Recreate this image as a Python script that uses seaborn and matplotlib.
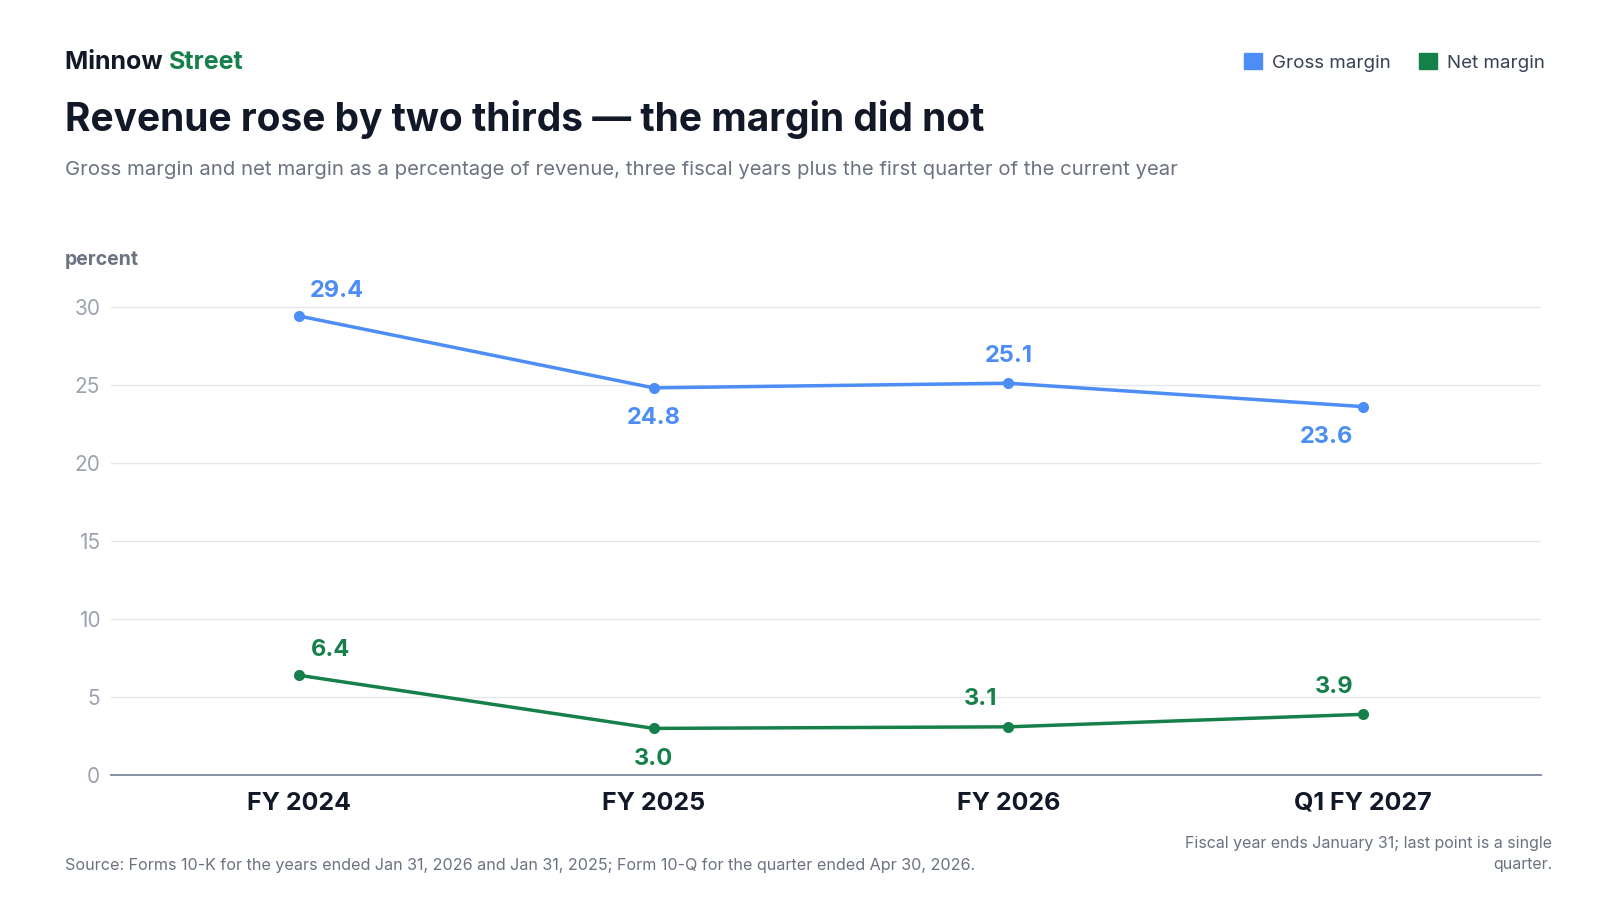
import matplotlib
matplotlib.use("Agg")
import matplotlib.pyplot as plt
import matplotlib.patches as mpatches
import pandas as pd
import seaborn as sns

periods = ["FY 2024", "FY 2025", "FY 2026", "Q1 FY 2027"]
gross_margin = [29.4, 24.8, 25.1, 23.6]
net_margin = [6.4, 3.0, 3.1, 3.9]

BLUE = "#4C8DF6"
GREEN = "#16804A"
DARK = "#111827"
GREY = "#6B7280"

sns.set_theme(style="white")
plt.rcParams['font.family'] = ['Inter', 'DejaVu Sans']

df = pd.DataFrame({
  "period": periods * 2,
  "x": list(range(4)) * 2,
  "value": gross_margin + net_margin,
  "series": ["Gross margin"] * 4 + ["Net margin"] * 4,
})

fig = plt.figure(figsize=(16, 9), dpi=100)
ax = fig.add_axes([0.0696, 0.1386, 0.8937, 0.5554])

sns.lineplot(data=df, x="x", y="value", hue="series",
             palette={"Gross margin": BLUE, "Net margin": GREEN},
             marker="o", markersize=8, markeredgewidth=0, linewidth=2.5,
             legend=False, ax=ax)

ax.set_xlim(-0.529, 3.503)
ax.set_ylim(0, 32)
ax.set_yticks(range(0, 31, 5))
ax.set_xticks(range(4))
ax.set_xticklabels(periods, fontsize=18, fontweight="bold", color=DARK)
ax.tick_params(axis="y", labelsize=15, labelcolor="#9CA3AF", length=0, pad=8)
ax.tick_params(axis="x", length=0, pad=12)
ax.set_xlabel("")
ax.set_ylabel("")
ax.grid(axis="y", color="#E5E7EB", linewidth=1)
for s in ["top", "right", "left"]:
  ax.spines[s].set_visible(False)
ax.spines["bottom"].set_color("#7C8799")
ax.spines["bottom"].set_linewidth(1.3)

# label offsets in points
g_off = [(27, 10), (0, -14), (0, 12), (-26, -14)]
n_off = [(23, 10), (0, -14), (-20, 12), (-21, 12)]
for i, v in enumerate(gross_margin):
  dx, dy = g_off[i]
  ax.annotate(f"{v:.1f}", (i, v), xytext=(dx, dy), textcoords="offset points",
              ha="center", va="bottom" if dy > 0 else "top",
              fontsize=17, fontweight="bold", color=BLUE)
for i, v in enumerate(net_margin):
  dx, dy = n_off[i]
  ax.annotate(f"{v:.1f}", (i, v), xytext=(dx, dy), textcoords="offset points",
              ha="center", va="bottom" if dy > 0 else "top",
              fontsize=17, fontweight="bold", color=GREEN)

fig.text(0.0406, 0.711, "percent", fontsize=14, fontweight="bold", color=GREY, va="center")

t = fig.text(0.0406, 0.931, "Minnow ", fontsize=18, fontweight="bold", color=DARK, va="center")
fig.canvas.draw()
bb = t.get_window_extent()
fig.text(bb.x1 / 1600, 0.931, "Street", fontsize=18, fontweight="bold", color=GREEN, va="center")
fig.text(0.0406, 0.867, "Revenue rose by two thirds \u2014 the margin did not",
         fontsize=28, fontweight="bold", color=DARK, va="center")
fig.text(0.0406, 0.811, "Gross margin and net margin as a percentage of revenue, three fiscal years plus the first quarter of the current year",
         fontsize=14.6, color=GREY, va="center")

handles = [mpatches.Patch(color=BLUE, label="Gross margin"),
           mpatches.Patch(color=GREEN, label="Net margin")]
leg = fig.legend(handles=handles, loc="center right", bbox_to_anchor=(0.976, 0.931),
                 ncol=2, frameon=False, fontsize=13.5, handlelength=1.0, handleheight=1.0,
                 columnspacing=1.5, handletextpad=0.5)
for txt in leg.get_texts():
  txt.set_color("#374151")

fig.text(0.0406, 0.038, "Source: Forms 10-K for the years ended Jan 31, 2026 and Jan 31, 2025; Form 10-Q for the quarter ended Apr 30, 2026.",
         fontsize=11.6, color=GREY, va="center")
fig.text(0.970, 0.051, "Fiscal year ends January 31; last point is a single\nquarter.",
         fontsize=11.5, color=GREY, ha="right", va="center", multialignment="right", linespacing=1.5)

plt.savefig("out.png", dpi=100)
plt.close()
